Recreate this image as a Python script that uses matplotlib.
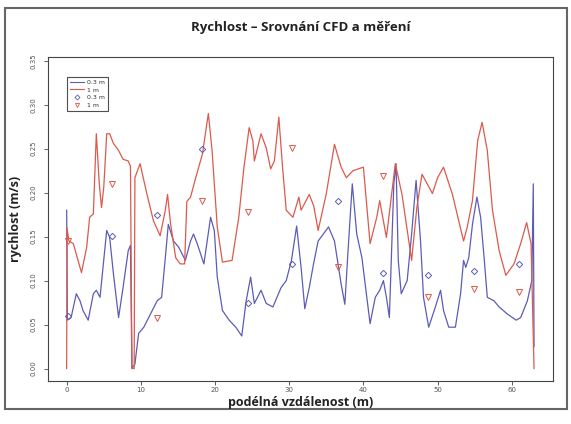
import matplotlib.pyplot as plt
from matplotlib.lines import Line2D
from matplotlib.patches import Rectangle

# CFD - 1 m (red line)
x_1m = [0.0, 0.05, 0.3, 0.9, 2.0, 2.7, 3.1, 3.6, 4.0, 4.4, 4.7, 5.0, 5.4, 5.8, 6.3, 7.0,
        7.6, 8.3, 8.6, 8.8, 9.1, 9.2, 9.9, 10.8, 11.7, 12.6, 13.3, 13.6, 14.0, 14.7,
        15.3, 15.9, 16.2, 16.7, 17.4, 18.3, 19.1, 19.6, 20.3, 21.0, 22.3, 23.2, 23.9,
        24.6, 25.1, 25.3, 26.2, 26.9, 27.5, 28.0, 28.6, 29.1, 29.6, 30.5, 31.3, 31.6,
        32.7, 33.3, 33.9, 35.0, 36.1, 37.0, 37.7, 38.6, 40.0, 40.9, 41.8, 42.2, 43.1,
        43.8, 44.3, 45.2, 46.5, 47.2, 47.9, 48.6, 49.3, 50.0, 50.8, 52.0, 53.5, 54.0,
        54.7, 55.4, 56.0, 56.7, 57.4, 58.3, 59.2, 60.3, 61.2, 62.0, 62.6, 63.0]
v_1m = [0.0, 0.16, 0.145, 0.142, 0.109, 0.138, 0.172, 0.176, 0.267, 0.21, 0.183, 0.206,
        0.267, 0.267, 0.256, 0.248, 0.238, 0.236, 0.23, 0.0, 0.0, 0.217, 0.233, 0.199,
        0.168, 0.151, 0.18, 0.198, 0.165, 0.126, 0.119, 0.119, 0.19, 0.195, 0.217,
        0.244, 0.29, 0.248, 0.161, 0.121, 0.123, 0.172, 0.229, 0.274, 0.259, 0.236,
        0.267, 0.251, 0.227, 0.236, 0.286, 0.229, 0.18, 0.172, 0.195, 0.18, 0.198,
        0.185, 0.157, 0.199, 0.255, 0.229, 0.217, 0.225, 0.229, 0.142, 0.172, 0.191,
        0.149, 0.198, 0.233, 0.198, 0.123, 0.183, 0.221, 0.21, 0.199, 0.217, 0.229,
        0.198, 0.145, 0.161, 0.191, 0.259, 0.28, 0.248, 0.18, 0.134, 0.106, 0.119,
        0.142, 0.166, 0.142, 0.0]

# CFD - 0.3 m (blue line)
x_03m = [0.0, 0.1, 0.6, 1.3, 1.8, 2.2, 2.9, 3.6, 4.0, 4.5, 4.9, 5.4, 5.8, 6.3, 7.0, 7.6,
         8.3, 8.6, 8.8, 9.2, 9.7, 10.4, 11.3, 12.2, 12.8, 13.3, 13.7, 14.4, 15.1, 16.0,
         16.7, 17.1, 17.6, 18.5, 19.4, 19.9, 20.3, 21.0, 21.9, 22.8, 23.6, 24.2, 24.8,
         25.3, 26.2, 26.9, 27.8, 28.9, 29.6, 30.3, 31.0, 31.6, 32.1, 32.7, 33.3, 33.9,
         35.3, 36.1, 37.0, 37.5, 37.9, 38.5, 39.1, 39.8, 40.4, 40.9, 41.6, 42.2, 42.7,
         43.1, 43.5, 44.1, 44.4, 44.7, 45.1, 45.9, 46.5, 47.1, 47.7, 48.1, 48.8, 49.7,
         50.4, 50.8, 51.5, 52.4, 53.1, 53.5, 53.8, 54.2, 54.7, 55.3, 55.8, 56.3, 56.7,
         57.6, 58.3, 59.4, 60.6, 61.2, 62.1, 62.7, 62.9, 63.0]
v_03m = [0.18, 0.055, 0.058, 0.085, 0.077, 0.066, 0.055, 0.085, 0.089, 0.081, 0.115,
         0.157, 0.149, 0.108, 0.058, 0.092, 0.134, 0.14, 0.0, 0.005, 0.04, 0.047, 0.062,
         0.077, 0.081, 0.126, 0.164, 0.145, 0.138, 0.123, 0.145, 0.153, 0.142, 0.119,
         0.172, 0.157, 0.104, 0.066, 0.055, 0.047, 0.037, 0.077, 0.104, 0.074, 0.089,
         0.074, 0.07, 0.092, 0.1, 0.123, 0.162, 0.115, 0.068, 0.092, 0.12, 0.145, 0.161,
         0.145, 0.096, 0.073, 0.13, 0.21, 0.153, 0.126, 0.085, 0.051, 0.081, 0.089, 0.1,
         0.081, 0.058, 0.21, 0.233, 0.123, 0.085, 0.1, 0.153, 0.214, 0.145, 0.081, 0.047,
         0.07, 0.089, 0.066, 0.047, 0.047, 0.085, 0.123, 0.115, 0.126, 0.164, 0.195,
         0.172, 0.123, 0.081, 0.077, 0.07, 0.062, 0.055, 0.058, 0.077, 0.1, 0.21, 0.025]

# mereni
x_mer = [0.2, 6.1, 12.2, 18.3, 24.4, 30.4, 36.6, 42.7, 48.7, 54.9, 61.0]
mer_03m = [0.06, 0.151, 0.175, 0.25, 0.075, 0.119, 0.191, 0.109, 0.106, 0.111, 0.119]
mer_1m = [0.145, 0.21, 0.058, 0.191, 0.178, 0.251, 0.115, 0.219, 0.081, 0.09, 0.087]

c_blue = '#5c5cb8'
c_red = '#db5a4c'

fig = plt.figure(figsize=(5.71, 4.24), dpi=100)
ax = fig.add_axes([0.084, 0.1014, 0.884, 0.764])

ax.plot(x_03m, v_03m, color=c_blue, linewidth=0.9)
ax.plot(x_1m, v_1m, color=c_red, linewidth=0.9)
ax.plot(x_mer, mer_03m, linestyle='none', marker='D', markersize=3.2,
        markerfacecolor='none', markeredgecolor=c_blue, markeredgewidth=0.7)
ax.plot(x_mer, mer_1m, linestyle='none', marker='v', markersize=4,
        markerfacecolor='none', markeredgecolor=c_red, markeredgewidth=0.7)

ax.set_xlim(-2.52, 65.52)
ax.set_ylim(-0.0142, 0.3542)
ax.set_xticks(range(0, 61, 10))
ax.set_yticks([0.0, 0.05, 0.10, 0.15, 0.20, 0.25, 0.30, 0.35])
ax.set_yticklabels(['0.00', '0.05', '0.10', '0.15', '0.20', '0.25', '0.30', '0.35'],
                   rotation=90, va='center')
ax.tick_params(axis='both', labelsize=5, length=3, width=0.6,
               color='#444444', labelcolor='#555555')
ax.tick_params(axis='y', pad=5)
ax.tick_params(axis='x', pad=1.5)
for s in ax.spines.values():
    s.set_color('#444444')
    s.set_linewidth(0.8)

handles = [
    Line2D([], [], color=c_blue, linewidth=0.8),
    Line2D([], [], color=c_red, linewidth=0.8),
    Line2D([], [], linestyle='none', marker='D', markersize=2.5,
           markerfacecolor='none', markeredgecolor=c_blue, markeredgewidth=0.6),
    Line2D([], [], linestyle='none', marker='v', markersize=3,
           markerfacecolor='none', markeredgecolor=c_red, markeredgewidth=0.6),
]
leg = ax.legend(handles, ['0.3 m', '1 m', '0.3 m', '1 m'], loc='upper left',
                bbox_to_anchor=(0.037, 0.94), fontsize=4.5, frameon=True,
                fancybox=False, edgecolor='#222222', borderpad=0.5,
                labelspacing=0.35, handlelength=2.2, handletextpad=0.6,
                borderaxespad=0)
leg.get_frame().set_linewidth(0.8)
for t in leg.get_texts():
    t.set_color('#333333')

fig.text(0.526, 0.934, 'Rychlost – Srovnání CFD a měření', ha='center', va='center',
         fontsize=9.5, fontweight='bold', family='Open Sans', color='#222222')
fig.text(0.526, 0.05, 'podélná vzdálenost (m)', ha='center', va='center',
         fontsize=9, fontweight='bold', family='Open Sans', color='#222222')
fig.text(0.028, 0.483, 'rychlost (m/s)', ha='center', va='center', rotation=90,
         fontsize=9, fontweight='bold', family='Open Sans', color='#222222')

fig.patches.append(Rectangle((0.009, 0.035), 0.984, 0.946, transform=fig.transFigure,
                             fill=False, edgecolor='#666666', linewidth=1.5))

fig.savefig('out.png', dpi=100)
